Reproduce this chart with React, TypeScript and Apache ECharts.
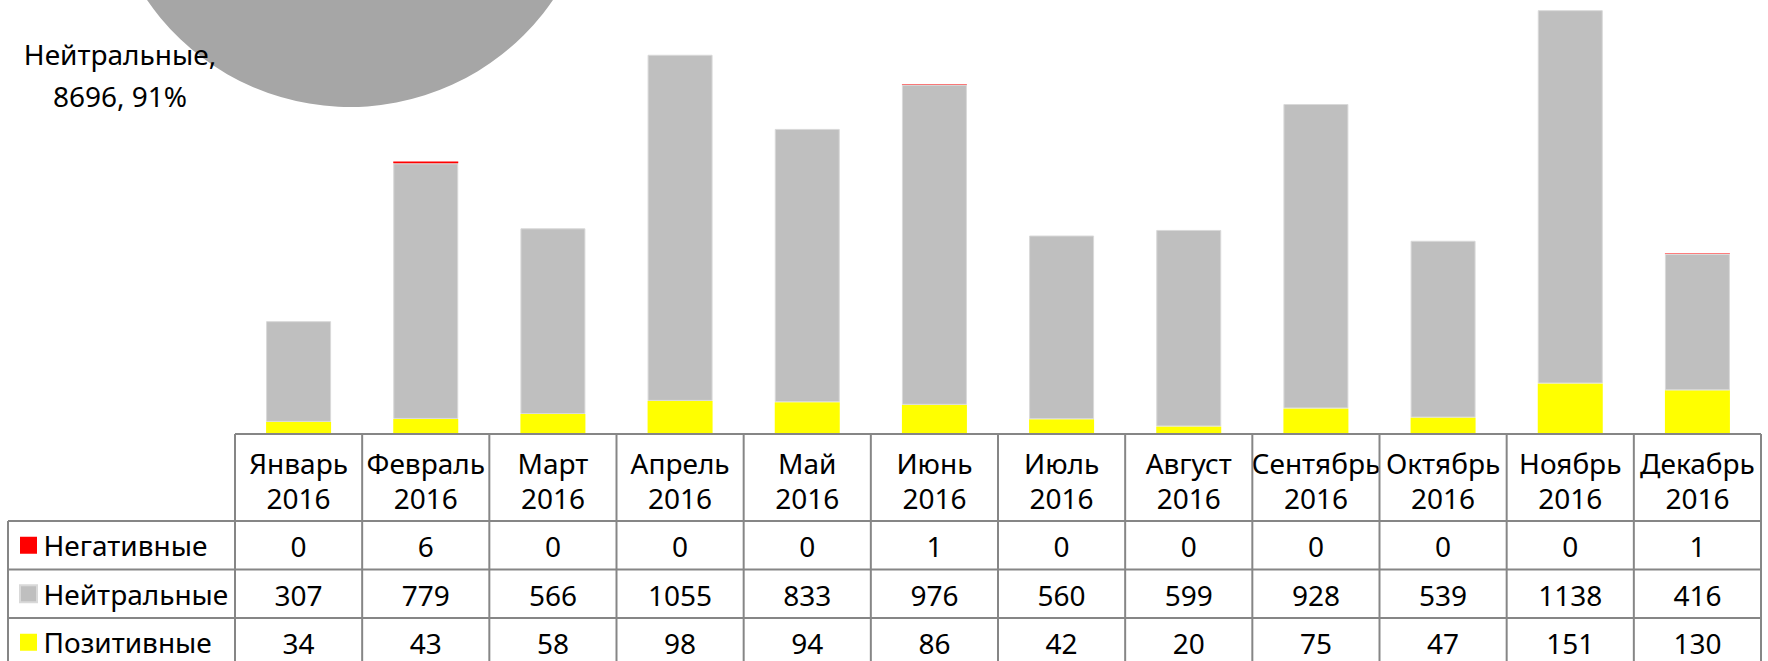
import React, { useEffect, useRef } from 'react';
import * as echarts from 'echarts';

const months = [
  'Январь\n2016', 'Февраль\n2016', 'Март\n2016', 'Апрель\n2016', 'Май\n2016', 'Июнь\n2016',
  'Июль\n2016', 'Август\n2016', 'Сентябрь\n2016', 'Октябрь\n2016', 'Ноябрь\n2016', 'Декабрь\n2016',
];
const negativeName = 'Негативные';
const neutralName = 'Нейтральные';
const positiveName = 'Позитивные';
const negative = [0, 6, 0, 0, 0, 1, 0, 0, 0, 0, 0, 1];
const neutral = [307, 779, 566, 1055, 833, 976, 560, 599, 928, 539, 1138, 416];
const positive = [34, 43, 58, 98, 94, 86, 42, 20, 75, 47, 151, 130];

const RED = '#FF0000';
const GRAY = '#BFBFBF';
const YELLOW = '#FFFF00';
const PIE_GRAY = '#A6A6A6';
const LINE = '#868686';
const FONT = "'Noto Sans', 'DejaVu Sans', sans-serif";
const FS = 28;

const W = 1768;
const H = 661;
const TABLE_LEFT = 8;
const GRID_LEFT = 235;
const GRID_RIGHT = 1761;
const BASELINE = 433;
const HEADER_BOTTOM = 521;
const ROW_H = 48.5;
const Y_MAX = 1320;

const sum = (a: number[]) => a.reduce((s, v) => s + v, 0);

export default function App() {
  const ref = useRef<HTMLDivElement>(null);
  useEffect(() => {
    if (!ref.current) return;
    const chart = echarts.init(ref.current, undefined, { renderer: 'svg' });
    const colW = (GRID_RIGHT - GRID_LEFT) / months.length;
    const rows = [
      { name: negativeName, values: negative },
      { name: neutralName, values: neutral },
      { name: positiveName, values: positive },
    ];
    const graphics: any[] = [];
    const ln = (x1: number, y1: number, x2: number, y2: number) =>
      graphics.push({
        type: 'line',
        silent: true,
        shape: { x1, y1, x2, y2 },
        style: { stroke: LINE, lineWidth: 2 },
        z: 10,
      });
    ln(GRID_LEFT, BASELINE + 1, GRID_RIGHT, BASELINE + 1);
    for (let r = 0; r <= 3; r++) {
      const y = HEADER_BOTTOM + r * ROW_H;
      ln(TABLE_LEFT, y, GRID_RIGHT, y);
    }
    ln(TABLE_LEFT, HEADER_BOTTOM, TABLE_LEFT, H + 10);
    for (let c = 0; c <= months.length; c++) {
      const x = GRID_LEFT + c * colW;
      ln(x, BASELINE + 1, x, H + 10);
    }
    rows.forEach((row, r) => {
      row.values.forEach((v, c) => {
        graphics.push({
          type: 'text',
          silent: true,
          x: GRID_LEFT + (c + 0.5) * colW,
          y: HEADER_BOTTOM + (r + 0.5) * ROW_H + 1,
          style: {
            text: String(v),
            fill: '#000',
            fontSize: FS,
            fontFamily: FONT,
            align: 'center',
            verticalAlign: 'middle',
          },
          z: 11,
        });
      });
    });

    const pieData = [
      { name: positiveName, value: sum(positive), itemStyle: { color: YELLOW } },
      {
        name: neutralName,
        value: sum(neutral),
        itemStyle: { color: PIE_GRAY },
        label: { show: true },
      },
      { name: negativeName, value: sum(negative), itemStyle: { color: RED } },
    ];

    chart.setOption({
      animation: false,
      textStyle: { fontFamily: FONT },
      grid: { left: GRID_LEFT, right: W - GRID_RIGHT, top: 0, bottom: H - BASELINE, containLabel: false },
      legend: {
        data: [negativeName, neutralName, positiveName],
        orient: 'vertical',
        left: 19,
        top: HEADER_BOTTOM + ROW_H / 2 - 14,
        itemWidth: 17,
        itemHeight: 17,
        itemGap: ROW_H - 28,
        icon: 'rect',
        selectedMode: false,
        padding: 0,
        textStyle: { fontSize: FS, color: '#000', fontFamily: FONT, padding: [0, 0, 0, 1.5] },
      },
      xAxis: {
        type: 'category',
        data: months,
        axisLine: { show: false },
        axisTick: { show: false },
        axisLabel: {
          interval: 0,
          margin: 12,
          fontSize: FS,
          lineHeight: 35,
          color: '#000',
          fontFamily: FONT,
        },
      },
      yAxis: {
        type: 'value',
        min: 0,
        max: Y_MAX,
        show: false,
        splitLine: { show: false },
      },
      series: [
        {
          name: positiveName,
          type: 'bar',
          stack: 'total',
          barWidth: 65,
          data: positive,
          itemStyle: { color: YELLOW },
        },
        {
          name: neutralName,
          type: 'bar',
          stack: 'total',
          barWidth: 65,
          data: neutral,
          itemStyle: { color: GRAY, borderColor: '#D9D9D9', borderWidth: 1 },
        },
        {
          name: negativeName,
          type: 'bar',
          stack: 'total',
          barWidth: 65,
          data: negative,
          itemStyle: { color: RED },
        },
        {
          type: 'pie',
          center: [350, -139],
          radius: 246,
          startAngle: 90,
          clockwise: true,
          data: pieData,
          label: {
            show: false,
            formatter: (p: any) => `${p.name},\n${p.value}, ${Math.round(p.percent)}%`,
            fontSize: FS,
            lineHeight: 42,
            color: '#000',
            fontFamily: FONT,
            align: 'center',
          },
          labelLine: { show: false },
          labelLayout: (p: any) =>
            p.dataIndex === 1 ? { x: 120, y: 75, align: 'center', verticalAlign: 'middle' } : {},
          emphasis: { disabled: true },
          z: 3,
        },
      ],
      graphic: graphics,
    });
    return () => chart.dispose();
  }, []);
  return (
    <div
      ref={ref}
      style={{ position: 'fixed', left: 0, top: 0, width: W, height: H, background: '#fff' }}
    />
  );
}
